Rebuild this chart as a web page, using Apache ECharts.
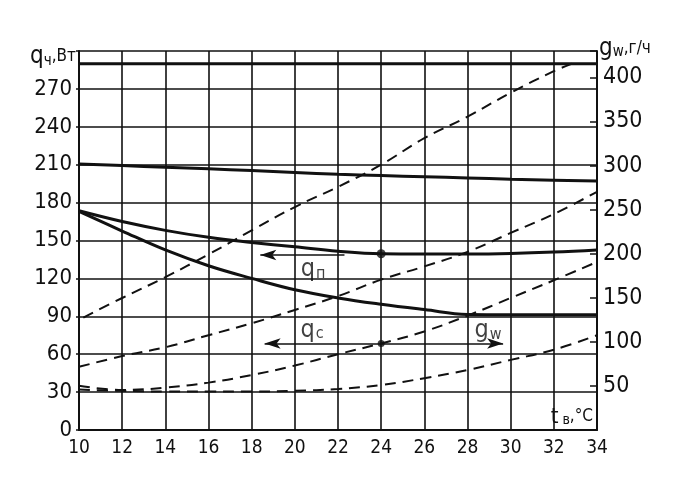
<!DOCTYPE html>
<html>
<head>
<meta charset="utf-8">
<script src="https://cdn.jsdelivr.net/npm/echarts@6/dist/echarts.min.js"></script>
<style>html,body{margin:0;padding:0;background:#fff;}#c{width:680px;height:499px;}</style>
</head>
<body>
<div id="c"></div>
<script>
// ---- data (left axis units: W; x: indoor temperature °C) ----
const xs = [10, 12, 14, 16, 18, 20, 22, 24, 26, 28, 30, 32, 34];
const xTickLabels = ['10','12','14','16','18','20','22','24','26','28','30','32','34'];
const qTotal = [290, 290, 290, 290, 290, 290, 290, 290, 290, 290, 290, 290, 290];
const qUpper = [210.6, 209.3, 208, 206.7, 205.4, 203.9, 202.4, 201.4, 200.5, 199.5, 198.5, 197.7, 197];
const qP = [173.5, 165, 158, 152.5, 148.5, 145, 141.5, 139.5, 139.3, 139.3, 139.7, 140.8, 142.5];
const qLow = [173, 157.5, 142.5, 130, 120, 111, 104.5, 99.5, 95.3, 91.5, 91.3, 91.3, 91.3];
const d1X = [10.2, 12, 14, 16, 18, 20, 22, 24, 26, 28, 30, 32, 33];
const d1 = [89, 104.5, 121, 139, 158, 176.5, 192.5, 210, 231, 248, 267, 284, 291];
const d2 = [50, 58.5, 65.5, 75, 84.5, 95, 106, 119, 129.5, 141, 156, 171, 188.5];
const d3 = [35, 31.7, 33.5, 37.5, 43.5, 51, 60, 68.5, 78, 90.5, 104.5, 118.5, 133];
const d4 = [32, 31, 30.5, 30.5, 30.5, 31, 32.5, 35.6, 41, 47.5, 55.5, 63.5, 75];
const dots = [[24, 139.5], [24, 68.5]];
const dotSizes = [9, 7];
const curveLabels = ['{q|q}{s|п}', '{q|q}{s|с}', '{q|g}{s|w}'];
const curveLabelPos = [[20.85, 126.7], [20.8, 79], [28.95, 78.4]];
const arrowQp = [[22.3, 138.5], [18.4, 138.5]];
const arrowQcGw = [[18.6, 68.5], [29.65, 68.5]];

const fam = '"Liberation Sans Narrow","DejaVu Sans Condensed","Liberation Sans",sans-serif';
const ink = '#111';

function pairs(xArr, yArr) { return xArr.map((x, i) => [x, yArr[i]]); }
function solid(name, xArr, yArr) {
  return { name, type: 'line', data: pairs(xArr, yArr), smooth: 0.4,
    symbol: 'none', lineStyle: { color: ink, width: 3 }, z: 5 };
}
function dashed(name, xArr, yArr) {
  return { name, type: 'line', data: pairs(xArr, yArr), smooth: 0.4,
    symbol: 'none', lineStyle: { color: ink, width: 2, type: [11, 7] }, z: 4 };
}

const richLabel = {
  q: { fontFamily: fam, fontSize: 25, color: ink },
  s: { fontFamily: fam, fontSize: 16, color: ink, padding: [8, 0, 0, 1] }
};

const chart = echarts.init(document.getElementById('c'), null, { renderer: 'canvas' });
chart.setOption({
  animation: false,
  backgroundColor: '#fff',
  grid: { left: 79, right: 83, top: 51, bottom: 69 },
  xAxis: {
    type: 'value', min: 10, max: 34, interval: 2,
    name: '{t|t}{s| в}{n|,°C}', nameLocation: 'end', nameGap: -4,
    nameTextStyle: { align: 'right', verticalAlign: 'bottom', padding: [0, 0, 2, 0],
      rich: {
        t: { fontFamily: fam, fontSize: 22, color: ink },
        s: { fontFamily: fam, fontSize: 14, color: ink, padding: [6, 0, 0, 0] },
        n: { fontFamily: fam, fontSize: 17, color: ink }
      } },
    axisLine: { lineStyle: { color: ink, width: 2 } },
    axisTick: { show: false },
    axisLabel: { fontFamily: fam, fontSize: 19, color: ink, margin: 9,
      formatter: v => xTickLabels[xs.indexOf(v)] || '' },
    splitLine: { show: true, lineStyle: { color: ink, width: 1.6 } }
  },
  yAxis: [
    {
      type: 'value', min: 0, max: 300, interval: 30, position: 'left',
      name: '{q|q}{s|ч}{n|,Вт}', nameLocation: 'end', nameGap: -6,
      nameTextStyle: { align: 'right', verticalAlign: 'middle', padding: [0, 3, 0, 0],
        rich: {
          q: { fontFamily: fam, fontSize: 24, color: ink },
          s: { fontFamily: fam, fontSize: 15, color: ink, padding: [8, 0, 0, 0] },
          n: { fontFamily: fam, fontSize: 17, color: ink }
        } },
      axisLine: { show: true, lineStyle: { color: ink, width: 2 } },
      axisTick: { show: true, length: 3, lineStyle: { color: ink, width: 1.5 } },
      axisLabel: { fontFamily: fam, fontSize: 22, color: ink, margin: 7,
        formatter: v => (v < 300 ? String(v) : '') },
      splitLine: { show: true, lineStyle: { color: ink, width: 1.6 } }
    },
    {
      type: 'value', min: 0, max: 430, interval: 50, position: 'right',
      name: '{q|g}{s|w}{n|,г/ч}', nameLocation: 'end', nameGap: 2,
      nameTextStyle: { align: 'left', verticalAlign: 'middle', padding: [0, 0, 0, 2],
        rich: {
          q: { fontFamily: fam, fontSize: 24, color: ink },
          s: { fontFamily: fam, fontSize: 15, color: ink, padding: [6, 0, 0, 0] },
          n: { fontFamily: fam, fontSize: 17, color: ink }
        } },
      axisLine: { show: true, lineStyle: { color: ink, width: 2 } },
      axisTick: { show: true, inside: true, length: 7, lineStyle: { color: ink, width: 1.5 } },
      axisLabel: { fontFamily: fam, fontSize: 23, color: ink, margin: 6,
        formatter: v => (v > 0 && v <= 400 ? String(v) : '') },
      splitLine: { show: false }
    }
  ],
  series: [
    solid('q total', xs, qTotal),
    solid('q upper', xs, qUpper),
    solid('q п', xs, qP),
    solid('q low', xs, qLow),
    dashed('d1', d1X, d1),
    dashed('d2', xs, d2),
    dashed('d3', xs, d3),
    dashed('d4', xs, d4),
    {
      name: 'dots', type: 'scatter', z: 6,
      data: dots.map((p, i) => ({ value: p, symbolSize: dotSizes[i] })),
      itemStyle: { color: ink }
    },
    {
      name: 'labels', type: 'scatter', z: 7, symbolSize: 0,
      data: curveLabelPos.map((p, i) => ({ value: p,
        label: { show: true, position: 'inside', formatter: curveLabels[i], rich: richLabel } })),
      markLine: {
        silent: true, animation: false,
        symbolSize: [8, 16],
        label: { show: false },
        lineStyle: { color: ink, width: 1.6, type: 'solid' },
        data: [
          [{ coord: arrowQp[0], symbol: 'none' }, { coord: arrowQp[1], symbol: 'arrow' }],
          [{ coord: arrowQcGw[0], symbol: 'arrow' }, { coord: arrowQcGw[1], symbol: 'arrow' }]
        ]
      }
    }
  ]
});
</script>
</body>
</html>
